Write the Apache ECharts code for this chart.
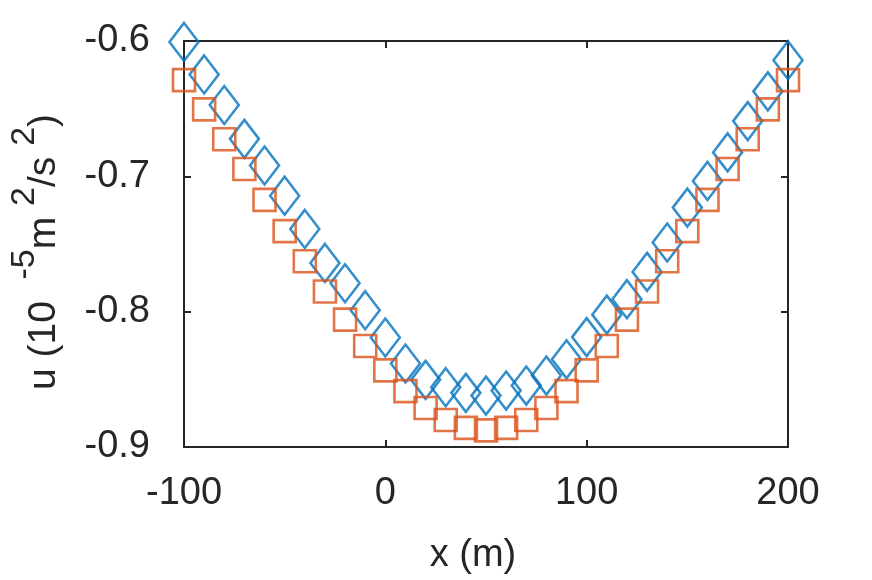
<!DOCTYPE html>
<html>
<head>
<meta charset="utf-8">
<script src="https://cdn.jsdelivr.net/npm/echarts@6/dist/echarts.min.js"></script>
<style>
html,body{margin:0;padding:0;background:#fff;}
#chart{width:872px;height:580px;}
</style>
</head>
<body>
<div id="chart"></div>
<script>
const xValues = [-100,-90,-80,-70,-60,-50,-40,-30,-20,-10,0,10,20,30,40,50,60,70,80,90,100,110,120,130,140,150,160,170,180,190,200];
const diamondValues = [-0.6007,-0.6247,-0.6473,-0.6723,-0.6920,-0.7143,-0.7389,-0.7640,-0.7790,-0.7989,-0.8191,-0.8383,-0.8504,-0.8558,-0.8600,-0.8620,-0.8583,-0.8546,-0.8472,-0.8352,-0.8188,-0.8022,-0.7908,-0.7706,-0.7489,-0.7231,-0.7034,-0.6823,-0.6592,-0.6372,-0.6142];
const squareValues = [-0.6289,-0.6505,-0.6726,-0.6946,-0.7174,-0.7405,-0.7628,-0.7851,-0.8059,-0.8254,-0.8434,-0.8587,-0.8712,-0.8801,-0.8859,-0.8877,-0.8859,-0.8801,-0.8712,-0.8587,-0.8434,-0.8254,-0.8059,-0.7851,-0.7628,-0.7405,-0.7174,-0.6946,-0.6726,-0.6505,-0.6289];
const xTicks = [-100, 0, 100, 200];
const yTicks = [-0.9, -0.8, -0.7, -0.6];
const xLabel = 'x (m)';

const TEXT = '#262626';
const FONT = 'Liberation Sans';
const chart = echarts.init(document.getElementById('chart'), null, {renderer: 'canvas'});

const lineStyle = {color: TEXT, width: 2};
const baseAxis = {
  axisLine: {show: true, onZero: false, lineStyle: lineStyle},
  axisTick: {show: true, inside: true, length: 7, lineStyle: lineStyle},
  splitLine: {show: false}
};

const option = {
  backgroundColor: '#fff',
  animation: false,
  grid: {left: 181, right: 84, top: 41, bottom: 132, containLabel: false},
  xAxis: [
    Object.assign({}, baseAxis, {
      type: 'value', position: 'bottom', min: xTicks[0], max: xTicks[xTicks.length-1], interval: 100,
      axisLabel: {show: true, margin: 28, color: TEXT, fontFamily: FONT, fontSize: 38},
      name: xLabel, nameLocation: 'middle', nameGap: 90,
      nameTextStyle: {color: TEXT, fontFamily: FONT, fontSize: 38, padding: [0, 26, 0, 0]}
    }),
    Object.assign({}, baseAxis, {
      type: 'value', position: 'top', min: xTicks[0], max: xTicks[xTicks.length-1], interval: 100,
      axisLabel: {show: false}
    })
  ],
  yAxis: [
    Object.assign({}, baseAxis, {
      type: 'value', position: 'left', min: yTicks[0], max: yTicks[yTicks.length-1], interval: 0.1,
      axisLabel: {show: true, margin: 34, color: TEXT, fontFamily: FONT, fontSize: 38,
        formatter: v => v.toFixed(1)},
      name: '{m|u (10  }{s|-5}{m|m }{s|2}{m|/s }{s|2}{m|)}',
      nameLocation: 'middle', nameRotate: 90, nameGap: 104,
      nameTextStyle: {
        color: TEXT, fontFamily: FONT, fontSize: 39, padding: [0, 16, 0, 0],
        rich: {
          m: {color: TEXT, fontFamily: FONT, fontSize: 39, lineHeight: 72},
          s: {color: TEXT, fontFamily: FONT, fontSize: 34, lineHeight: 34, verticalAlign: 'top'}
        }
      }
    }),
    Object.assign({}, baseAxis, {
      type: 'value', position: 'right', min: yTicks[0], max: yTicks[yTicks.length-1], interval: 0.1,
      axisLabel: {show: false}
    })
  ],
  series: [
    {
      type: 'scatter', name: 'diamond', clip: false,
      data: xValues.map((x, i) => [x, diamondValues[i]]),
      symbol: 'diamond', symbolSize: [29, 38],
      itemStyle: {color: 'rgba(0,0,0,0)', borderColor: '#0072BD', borderWidth: 2.6}
    },
    {
      type: 'scatter', name: 'square', clip: false,
      data: xValues.map((x, i) => [x, squareValues[i]]),
      symbol: 'rect', symbolSize: 22,
      itemStyle: {color: 'rgba(0,0,0,0)', borderColor: '#D95319', borderWidth: 2.6}
    }
  ]
};
chart.setOption(option);
</script>
</body>
</html>
